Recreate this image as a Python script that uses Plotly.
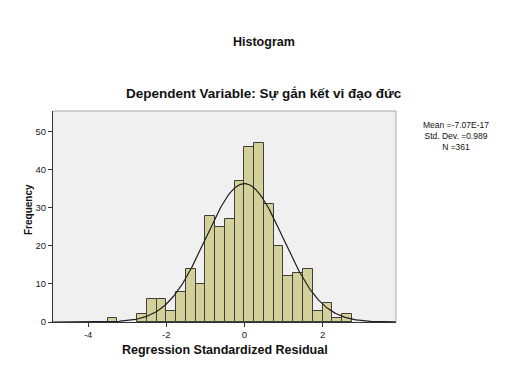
import numpy as np
import plotly.graph_objects as go

# Histogram data (bin left edges, width 0.25)
bin_left = [-3.5, -2.75, -2.5, -2.25, -2.0, -1.75, -1.5, -1.25, -1.0, -0.75, -0.5, -0.25,
            0.0, 0.25, 0.5, 0.75, 1.0, 1.25, 1.5, 1.75, 2.0, 2.25, 2.5]
counts = [1, 2, 6, 6, 3, 8, 14, 10, 28, 25, 27, 37,
          46, 47, 31, 20, 12, 13, 14, 3, 5, 1, 2]
bin_width = 0.25

mean = -7.07e-17
std = 0.989
n = 361

x_ticks = [-4, -2, 0, 2]
x_tick_labels = ["-4", "-2", "0", "2"]
y_ticks = [0, 10, 20, 30, 40, 50]
x_range = [-4.9, 3.88]
y_range = [0, 55.5]

centers = [b + bin_width / 2 for b in bin_left]

fig = go.Figure()
fig.add_trace(go.Bar(
    x=centers, y=counts, width=bin_width,
    marker=dict(color="#D4D09C", line=dict(color="#3E3E36", width=1)),
    hoverinfo="x+y",
))

xs = np.linspace(x_range[0], x_range[1], 400)
ys = n * bin_width / (std * np.sqrt(2 * np.pi)) * np.exp(-0.5 * ((xs - mean) / std) ** 2)
fig.add_trace(go.Scatter(x=xs, y=ys, mode="lines",
                         line=dict(color="#1E1E1E", width=1.2), hoverinfo="skip"))

OFF = 8  # page body margin
L, R, T, B = 53 - OFF, 396 - OFF, 111 - OFF, 322 - OFF
W, H = 528 - OFF, 365 - OFF
pw, ph = R - L, B - T

def px(x):
    return (x - OFF - L) / pw

def py(y):
    return (B - (y - OFF)) / ph

font = "Liberation Sans, Arial, sans-serif"

ann = [
    dict(text="<b>Histogram</b>", x=px(264), y=py(42), font=dict(size=12.5)),
    dict(text="<b>Dependent Variable: Sự gắn kết vi đạo đức</b>", x=px(264), y=py(94), font=dict(size=13.5)),
    dict(text="Mean =-7.07E-17<br>Std. Dev. =0.989<br>N =361", x=px(456), y=py(136),
         font=dict(size=8.5)),
    dict(text="<b>Regression Standardized Residual</b>", x=px(225), y=py(350), font=dict(size=12.5)),
    dict(text="<b>Frequency</b>", x=px(28), y=py(210), font=dict(size=10), textangle=-90),
]
for a in ann:
    a.update(xref="paper", yref="paper", showarrow=False, xanchor="center", yanchor="middle")
    a["font"].update(family=font, color="#111111")

fig.update_layout(
    width=W, height=H,
    margin=dict(l=L, r=W - R, t=T, b=H - B, pad=0),
    paper_bgcolor="white", plot_bgcolor="#F0F0F0",
    showlegend=False, bargap=0,
    annotations=ann,
    font=dict(family=font, size=9, color="#222222"),
    shapes=[
        dict(type="line", xref="paper", yref="paper", x0=0, x1=1, y0=1, y1=1,
             line=dict(color="#A8A8A8", width=1)),
        dict(type="line", xref="paper", yref="paper", x0=1, x1=1, y0=0, y1=1,
             line=dict(color="#A8A8A8", width=1)),
    ],
)
fig.update_xaxes(range=x_range, tickvals=x_ticks, ticktext=x_tick_labels, ticks="outside", ticklen=4,
                 tickcolor="#333333", showline=True, linecolor="#333333", linewidth=1,
                 showgrid=False, zeroline=False, tickfont=dict(size=9.5, color="#1A1A1A"))
fig.update_yaxes(range=y_range, tickvals=y_ticks, ticks="outside", ticklen=4,
                 tickcolor="#333333", showline=True, linecolor="#333333", linewidth=1,
                 showgrid=False, zeroline=False, tickfont=dict(size=9.5, color="#1A1A1A"))

fig.write_html("out.html")
